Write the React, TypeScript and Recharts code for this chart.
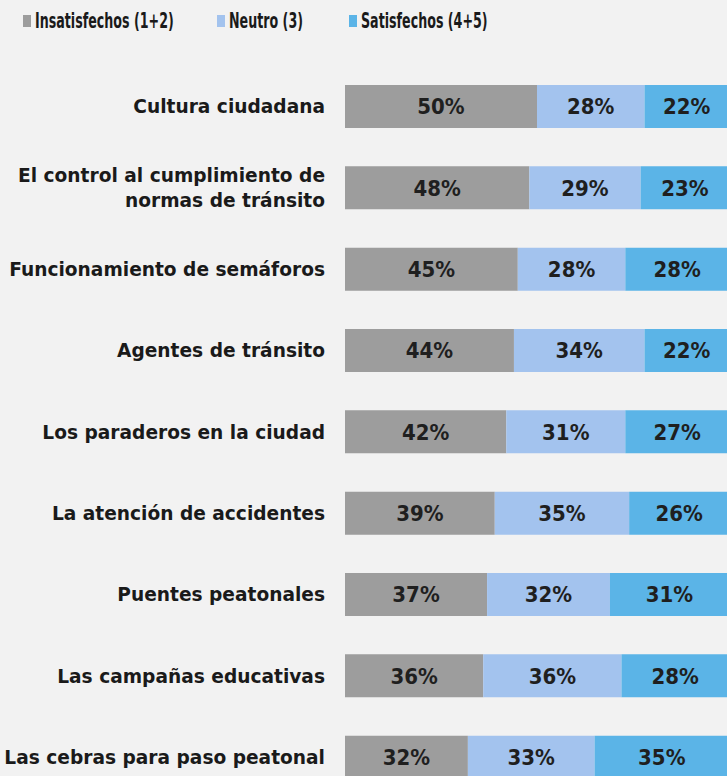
import React from "react";
import { BarChart, Bar, XAxis, YAxis, LabelList } from "recharts";

const categories = [
  "Cultura ciudadana",
  "El control al cumplimiento de\nnormas de tránsito",
  "Funcionamiento de semáforos",
  "Agentes de tránsito",
  "Los paraderos en la ciudad",
  "La atención de accidentes",
  "Puentes peatonales",
  "Las campañas educativas",
  "Las cebras para paso peatonal",
];
const insatisfechos = [50, 48, 45, 44, 42, 39, 37, 36, 32];
const neutro = [28, 29, 28, 34, 31, 35, 32, 36, 33];
const satisfechos = [22, 23, 28, 22, 27, 26, 31, 28, 35];

const seriesNames = ["Insatisfechos (1+2)", "Neutro (3)", "Satisfechos (4+5)"];
const colors = ["#9d9d9d", "#a3c3ee", "#5bb4e7"];
const legendX = [23, 217, 349];

const data = categories.map((c, i) => ({
  name: c,
  ins: insatisfechos[i],
  neu: neutro[i],
  sat: satisfechos[i],
}));

const CAT_FONT = "'DejaVu Sans', sans-serif";
const VAL_FONT = "'DejaVu Sans Condensed', 'DejaVu Sans', sans-serif";
const LEG_FONT = "'DejaVu Sans Condensed', 'DejaVu Sans', sans-serif";

const YTick = (props: any) => {
  const { x, y, payload } = props;
  const lines = String(payload.value).split("\n");
  const lh = 25;
  const start = -((lines.length - 1) * lh) / 2;
  const tx = x - 12;
  return (
    <text
      x={tx}
      textAnchor="end"
      fontFamily={CAT_FONT}
      fontWeight={700}
      fontSize={18.6}
      fill="#1a1a1a"
    >
      {lines.map((l, i) => (
        <tspan key={i} x={tx} y={y + start + i * lh} dy="0.36em">
          {l}
        </tspan>
      ))}
    </text>
  );
};

const ValueLabel = (props: any) => {
  const { x, y, width, height, value } = props;
  return (
    <text
      x={x + width / 2}
      y={y + height / 2}
      dy="0.36em"
      textAnchor="middle"
      fontFamily={VAL_FONT}
      fontWeight={700}
      fontSize={22}
      fill="#1f1f1f"
    >
      {value}%
    </text>
  );
};

export default function App() {
  return (
    <div
      style={{
        width: 727,
        height: 776,
        position: "fixed",
        top: 0,
        left: 0,
        overflow: "hidden",
        background: "#f2f2f2",
      }}
    >
      {seriesNames.map((n, i) => (
        <div
          key={n}
          style={{
            position: "absolute",
            left: legendX[i],
            top: 8,
            height: 26,
            display: "flex",
            alignItems: "center",
            fontFamily: LEG_FONT,
            fontWeight: 700,
            fontSize: 21,
            color: "#1a1a1a",
            whiteSpace: "nowrap",
          }}
        >
          <span
            style={{
              display: "inline-block",
              width: 8,
              height: 12,
              background: colors[i],
              marginRight: 4,
            }}
          />
          <span
            style={{
              display: "inline-block",
              transform: "scaleX(0.67)",
              transformOrigin: "left center",
            }}
          >
            {n}
          </span>
        </div>
      ))}
      <BarChart
        width={729}
        height={812}
        data={data}
        layout="vertical"
        margin={{ top: 66, right: 0, bottom: 14, left: 0 }}
        barSize={43}
      >
        <XAxis type="number" domain={[0, 100]} hide allowDataOverflow />
        <YAxis
          type="category"
          dataKey="name"
          width={345}
          axisLine={false}
          tickLine={false}
          tick={<YTick />}
          interval={0}
        />
        <Bar dataKey="ins" stackId="a" fill={colors[0]} isAnimationActive={false}>
          <LabelList dataKey="ins" content={<ValueLabel />} />
        </Bar>
        <Bar dataKey="neu" stackId="a" fill={colors[1]} isAnimationActive={false}>
          <LabelList dataKey="neu" content={<ValueLabel />} />
        </Bar>
        <Bar dataKey="sat" stackId="a" fill={colors[2]} isAnimationActive={false}>
          <LabelList dataKey="sat" content={<ValueLabel />} />
        </Bar>
      </BarChart>
    </div>
  );
}
